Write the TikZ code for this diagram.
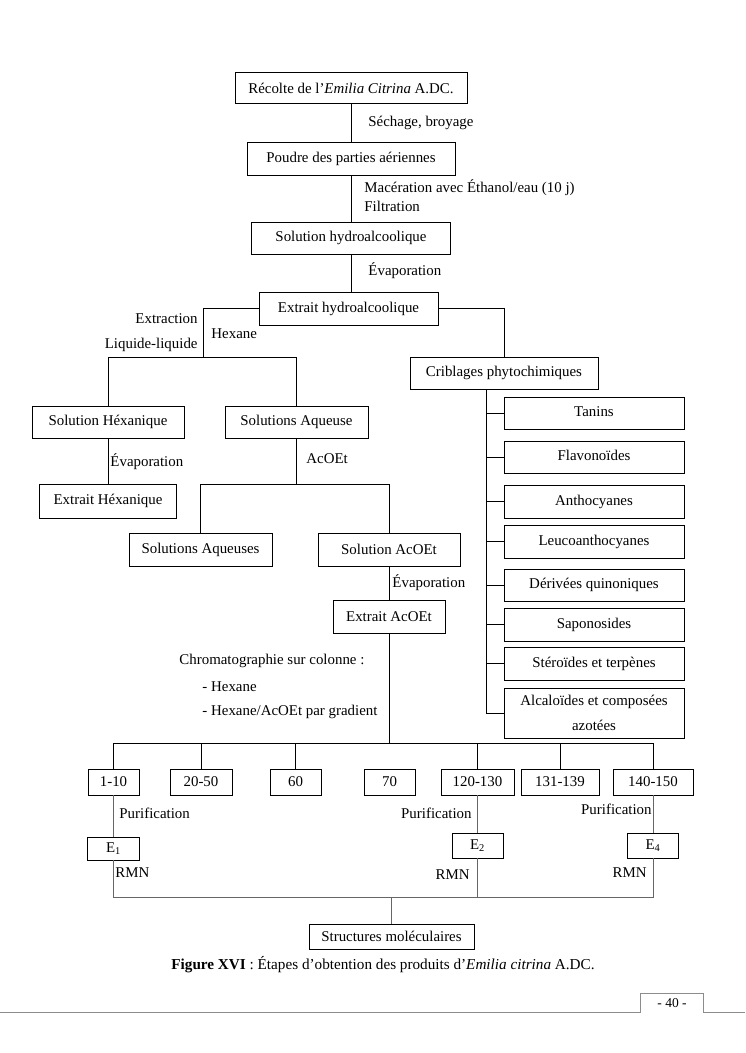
\documentclass[tikz,border=0pt]{standalone}
\usepackage{fontspec}
\setmainfont{Liberation Serif}
\usepackage{tikz}

\begin{document}
\begin{tikzpicture}[x=1pt, y=-1pt, line width=0.9pt,
        font=\fontsize{14.9}{18}\selectfont,
        box/.style={draw, rectangle, inner sep=0pt},
        lbl/.style={inner sep=0pt},
        thin line/.style={draw=black!60}]
        \useasboundingbox (0, 0) rectangle (745, 1053);

        \node [box, minimum width=232pt, minimum height=31pt] (recolte) at (351, 88) {R\'ecolte de l'\textit{Emilia Citrina} A.DC.};
        \node [box, minimum width=208pt, minimum height=33pt] (poudre) at (351, 158.5) {Poudre des parties a\'eriennes};
        \node [box, minimum width=199pt, minimum height=32pt] (solhydro) at (351, 238) {Solution hydroalcoolique};
        \node [box, minimum width=179pt, minimum height=33pt] (exthydro) at (348.5, 308.5) {Extrait hydroalcoolique};
        \node [box, minimum width=188pt, minimum height=32pt] (crib) at (504, 373) {Criblages phytochimiques};

        \node [box, minimum width=152pt, minimum height=32pt] (solhex) at (108, 422) {Solution H\'exanique};
        \node [box, minimum width=143pt, minimum height=32pt] (solaq) at (296.5, 422) {Solutions Aqueuse};
        \node [box, minimum width=137pt, minimum height=34pt] (exthex) at (108, 501) {Extrait H\'exanique};
        \node [box, minimum width=143pt, minimum height=33pt] (solaqs) at (200.5, 549.5) {Solutions Aqueuses};
        \node [box, minimum width=142pt, minimum height=33pt] (solacoet) at (389, 549.5) {Solution AcOEt};
        \node [box, minimum width=112pt, minimum height=33pt] (extacoet) at (389, 616.5) {Extrait AcOEt};

        \foreach \y / \h / \name / \txt in {413/32/tanins/Tanins, 457/32/flavo/Flavono\"ides,
            501.5/33/antho/Anthocyanes, 541.5/33/leuco/Leucoanthocyanes,
            585/32/deriv/D\'eriv\'ees quinoniques, 624.5/33/sapo/Saponosides,
            663.5/33/stero/St\'ero\"ides et terp\`enes}{
          \node [box, minimum width=180pt, minimum height=\h pt] (\name) at (594, \y) {\raisebox{3pt}{\txt}};
        }
        \node [box, minimum width=180pt, minimum height=50pt, align=center,
               font=\fontsize{14.9}{25}\selectfont] (alcalo) at (594, 713) {Alcalo\"ides et compos\'ees\\azot\'ees};

        \foreach \x / \w / \name / \txt in {113.5/51/fa/1-10, 201/62/fb/20-50, 295.5/51/fc/60,
            389.5/51/fd/70, 477.5/73/fe/120-130, 560/78/ff/131-139, 653/80/fg/140-150}{
          \node [box, minimum width=\w pt, minimum height=26pt] (\name) at (\x, 782) {\txt};
        }

        \node [box, minimum width=52pt, minimum height=23pt] (ea) at (113.5, 848.5) {E\textsubscript{1}};
        \node [box, minimum width=51pt, minimum height=25pt] (eb) at (477.5, 845.5) {E\textsubscript{2}};
        \node [box, minimum width=51pt, minimum height=25pt] (ec) at (653, 845.5) {E\textsubscript{4}};
        \node [box, minimum width=165pt, minimum height=25pt] (struct) at (391.5, 936.5) {Structures mol\'eculaires};

        \coordinate (lq) at (203, 357);
        \coordinate (trk) at (486, 389);
        \coordinate (ac) at (296.5, 484);
        \coordinate (fbar) at (389, 743);
        \coordinate (rbar) at (391.5, 897);

        \draw (recolte) -- (poudre);
        \draw (poudre) -- (solhydro);
        \draw (solhydro.south) -- (solhydro.south |- exthydro.north);
        \draw (exthydro.west) -| (lq);
        \draw (solhex.north) -- (solhex.north |- lq) -- (solaq.north |- lq) -- (solaq.north);
        \draw (exthydro.east) -| (crib.north);
        \draw (trk) |- (alcalo.west);
        \foreach \name in {tanins, flavo, antho, leuco, deriv, sapo, stero}{
          \draw (trk |- \name.west) -- (\name.west);
        }
        \draw (solhex) -- (exthex);
        \draw (solaq.south) -- (ac);
        \draw (solaqs.north) -- (solaqs.north |- ac) -- (solacoet.north |- ac) -- (solacoet.north);
        \draw (solacoet) -- (extacoet);
        \draw (extacoet.south) -- (fbar);
        \draw (fa.north) -- (fa.north |- fbar) -- (fg.north |- fbar) -- (fg.north);
        \foreach \name in {fb, fc, fe, ff}{
          \draw (\name.north) -- (\name.north |- fbar);
        }
        \draw [thin line] (fa) -- (ea);
        \draw [thin line] (fe) -- (eb);
        \draw [thin line] (fg) -- (ec);
        \draw [thin line] (ea.south) -- (ea.south |- rbar) -- (ec.south |- rbar) -- (ec.south);
        \draw [thin line] (eb.south) -- (eb.south |- rbar);
        \draw [thin line] (rbar) -- (struct.north);

        \node [lbl, anchor=west] (seche) at (368, 123) {S\'echage, broyage};
        \node [lbl, anchor=west] (macer) at (364, 188) {Mac\'eration avec \'Ethanol/eau (10 j)};
        \node [lbl, anchor=west] (filtr) at (364, 206) {Filtration};
        \node [lbl, anchor=west] (evapa) at (368, 271) {\'Evaporation};
        \node [lbl, anchor=east] (extrac) at (198, 319) {Extraction};
        \node [lbl, anchor=east] (liquid) at (198, 345) {Liquide-liquide};
        \node [lbl, anchor=west] (hexa) at (211, 334) {Hexane};
        \node [lbl, anchor=west] (evapb) at (110, 462) {\'Evaporation};
        \node [lbl, anchor=west] (acoet) at (306, 459) {AcOEt};
        \node [lbl, anchor=west] (evapc) at (392, 583) {\'Evaporation};
        \node [lbl, anchor=west] (chroma) at (179, 661) {Chromatographie sur colonne :};
        \node [lbl, anchor=west] (hexb) at (202, 687) {- Hexane};
        \node [lbl, anchor=west] (grad) at (202, 712) {- Hexane/AcOEt par gradient};
        \node [lbl, anchor=west] (pura) at (119, 813) {Purification};
        \node [lbl, anchor=east] (purb) at (472, 813) {Purification};
        \node [lbl, anchor=east] (purc) at (652, 809) {Purification};
        \node [lbl, anchor=west] (rmna) at (115, 873) {RMN};
        \node [lbl, anchor=east] (rmnb) at (470, 875) {RMN};
        \node [lbl, anchor=east] (rmnc) at (647, 873) {RMN};

        \node [lbl, font=\fontsize{15.2}{18}\selectfont] (caption) at (383, 965) {\textbf{Figure XVI} : \'Etapes d'obtention des produits d'\textit{Emilia citrina} A.DC.};

        \draw [black!45, line width=0.8pt] (0, 1012) -- (640, 1012) -- (640, 993) -- (703, 993) -- (703, 1012) -- (745, 1012);
        \node [lbl, font=\fontsize{13.5}{16}\selectfont] (page) at (672, 1003) {- 40 -};
      \end{tikzpicture}
\end{document}
